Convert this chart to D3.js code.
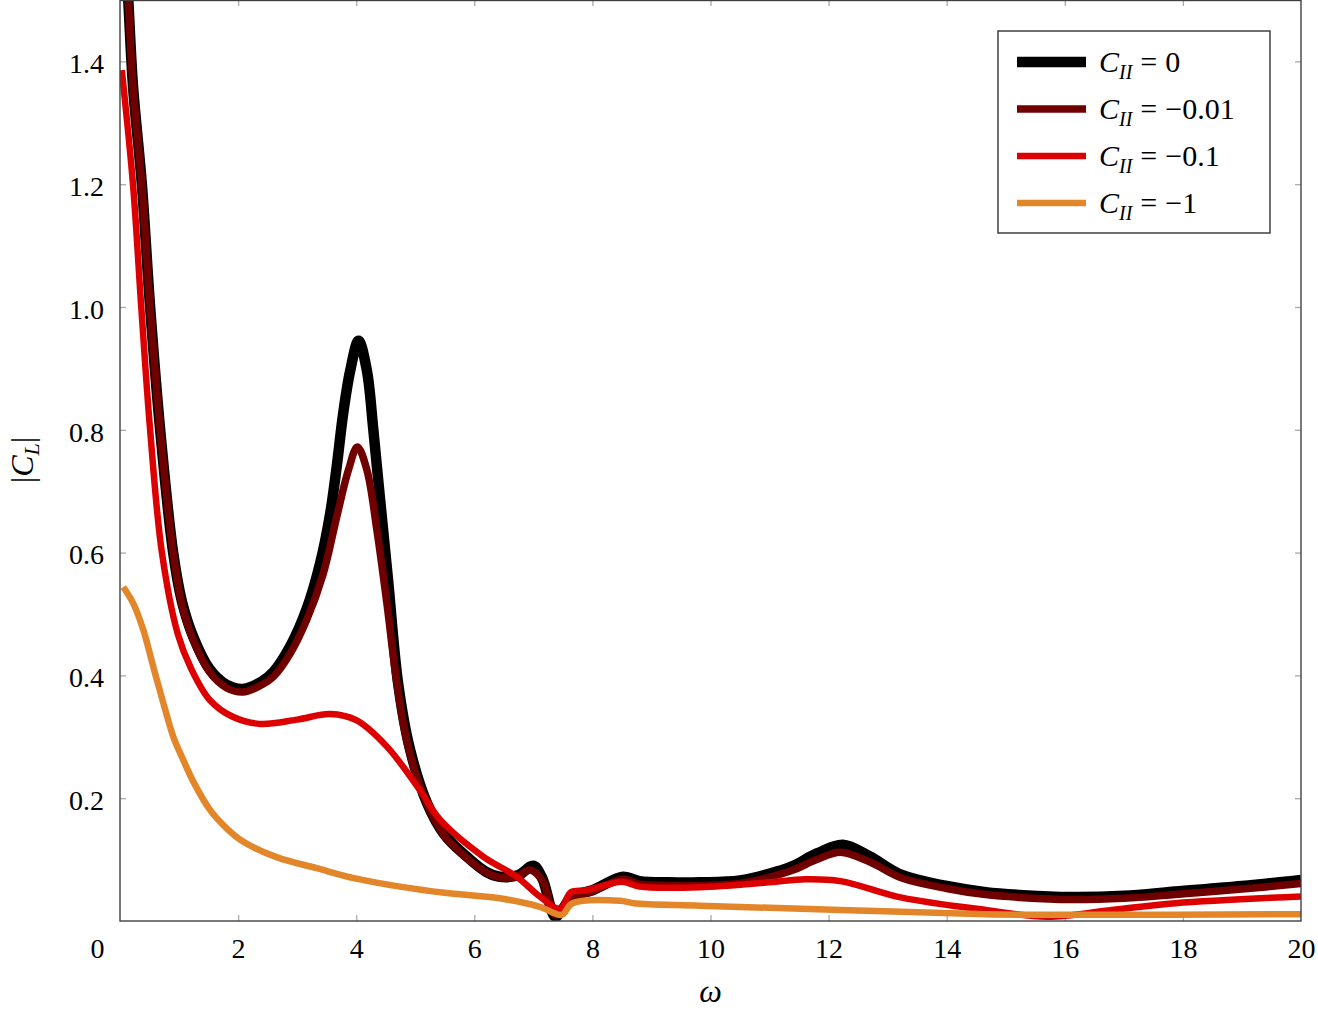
<!DOCTYPE html>
<html>
<head>
<meta charset="utf-8">
<script src="https://cdn.jsdelivr.net/npm/d3@7"></script>
<style>
  body { margin: 0; background: #fff; }
  svg text { font-family: "Liberation Serif", "Times New Roman", Tinos, "DejaVu Serif", "Noto Serif", serif; fill: #000; }
  .tick line { stroke: #aaa; stroke-width: 1.3; }
  .domain { display: none; }
</style>
</head>
<body>
<div id="chart"></div>
<script>
// series values
let omega0 = [0.05, 0.14, 0.22, 0.37, 0.51, 0.68, 0.9, 1.05, 1.24, 1.52, 1.8, 2.08, 2.4, 2.6, 2.88, 3.16, 3.39, 3.56, 3.67, 3.78, 3.9, 4.04, 4.18, 4.29, 4.4, 4.54, 4.71, 4.91, 5.2, 5.5, 5.87, 6.2, 6.43, 6.75, 7.0, 7.15, 7.37, 7.5, 7.65, 8.0, 8.52, 8.8, 9.3, 9.82, 10.5, 11.1, 11.4, 11.8, 12.24, 12.7, 13.24, 14.0, 14.66, 15.3, 16.09, 17.0, 17.87, 19.0, 20];
let cl0 = [1.65, 1.5, 1.36, 1.2, 1.0, 0.80, 0.60, 0.52, 0.463, 0.41, 0.385, 0.378, 0.39, 0.406, 0.447, 0.508, 0.583, 0.664, 0.74, 0.827, 0.897, 0.945, 0.897, 0.80, 0.691, 0.555, 0.387, 0.28, 0.192, 0.14, 0.105, 0.08, 0.072, 0.075, 0.09, 0.07, 0.007, 0.02, 0.04, 0.05, 0.072, 0.065, 0.063, 0.063, 0.066, 0.08, 0.09, 0.11, 0.124, 0.105, 0.075, 0.057, 0.047, 0.042, 0.039, 0.041, 0.048, 0.057, 0.067];

let omega1 = [0.05, 0.14, 0.22, 0.37, 0.51, 0.68, 0.9, 1.05, 1.24, 1.52, 1.8, 2.08, 2.35, 2.6, 2.88, 3.16, 3.44, 3.67, 3.87, 4.02, 4.18, 4.35, 4.52, 4.69, 4.88, 5.2, 5.5, 5.87, 6.2, 6.43, 6.7, 6.95, 7.15, 7.37, 7.5, 7.65, 8.0, 8.52, 8.8, 9.3, 9.82, 10.5, 11.1, 11.4, 11.8, 12.2, 12.7, 13.24, 14.0, 14.66, 15.3, 16.09, 17.0, 17.87, 19.0, 20];
let cl1 = [1.65, 1.5, 1.36, 1.2, 1.0, 0.80, 0.60, 0.515, 0.458, 0.405, 0.38, 0.373, 0.382, 0.398, 0.435, 0.49, 0.565, 0.658, 0.735, 0.772, 0.735, 0.637, 0.517, 0.387, 0.284, 0.19, 0.138, 0.103, 0.079, 0.071, 0.072, 0.083, 0.066, 0.01, 0.02, 0.038, 0.048, 0.068, 0.06, 0.058, 0.058, 0.061, 0.074, 0.083, 0.1, 0.112, 0.096, 0.07, 0.053, 0.043, 0.038, 0.035, 0.037, 0.043, 0.052, 0.061];

let omega2 = [0.03, 0.22, 0.36, 0.51, 0.71, 0.98, 1.2, 1.52, 1.9, 2.37, 3.0, 3.56, 4.0, 4.52, 5.08, 5.42, 6.15, 6.72, 7.11, 7.45, 7.64, 7.9, 8.5, 8.8, 9.82, 11.0, 11.6, 12.2, 13.24, 14.66, 15.7, 16.8, 17.87, 20];
let cl2 = [1.386, 1.2, 1.0, 0.80, 0.60, 0.467, 0.412, 0.36, 0.333, 0.321, 0.328, 0.337, 0.327, 0.284, 0.213, 0.165, 0.105, 0.072, 0.04, 0.02, 0.047, 0.05, 0.064, 0.056, 0.055, 0.063, 0.068, 0.065, 0.038, 0.018, 0.007, 0.018, 0.029, 0.04];

let omega3 = [0.056, 0.226, 0.395, 0.564, 0.734, 0.903, 1.073, 1.242, 1.524, 1.806, 2.09, 2.65, 3.33, 4.0, 4.74, 5.5, 6.43, 7.11, 7.48, 7.66, 8.47, 8.7, 9.82, 12.2, 14.66, 16.0, 20];
let cl3 = [0.544, 0.517, 0.474, 0.414, 0.355, 0.300, 0.262, 0.227, 0.181, 0.151, 0.129, 0.104, 0.086, 0.069, 0.056, 0.046, 0.037, 0.023, 0.01, 0.029, 0.033, 0.029, 0.025, 0.018, 0.011, 0.01, 0.011];

let seriesNames = ["0", "\u22120.01", "\u22120.1", "\u22121"];
let seriesColors = ["#000000", "#700000", "#dc0000", "#e3862a"];
let seriesWidths = [10.5, 7.5, 6.5, 6.5];

let xTicks = [0, 2, 4, 6, 8, 10, 12, 14, 16, 18, 20];
let yTicks = [0.2, 0.4, 0.6, 0.8, 1.0, 1.2, 1.4];

let width = 1318, height = 1013;
let plotLeft = 120, plotRight = 1301, plotTop = 0, plotBottom = 921;
let serif = "'Liberation Serif', 'Times New Roman', Tinos, 'DejaVu Serif', serif";

let x = d3.scaleLinear().domain([0, 20]).range([plotLeft, plotRight]);
let y = d3.scaleLinear().domain([0, 1.5]).range([plotBottom, plotTop]);

let svg = d3.select("#chart").append("svg")
  .attr("width", width)
  .attr("height", height)
  .attr("font-family", serif);

svg.append("defs").append("clipPath").attr("id", "plotclip")
  .append("rect")
  .attr("x", plotLeft).attr("y", plotTop)
  .attr("width", plotRight - plotLeft).attr("height", plotBottom - plotTop);

// ticks on all four sides, pointing inward
svg.append("g")
  .attr("transform", "translate(0," + plotBottom + ")")
  .call(d3.axisBottom(x).tickValues(xTicks).tickSize(-6).tickPadding(17).tickFormat(d3.format("d")))
  .call(g => g.attr("font-family", serif))
  .call(g => g.selectAll("text").attr("font-size", 28).attr("dy", "0.71em"))
  .call(g => g.selectAll(".tick").filter(d => d === 0).select("text").attr("dx", -23))
  .call(g => g.selectAll(".tick").filter(d => d === 0 || d === 20).select("line").remove());

svg.append("g")
  .attr("transform", "translate(0," + plotTop + ")")
  .call(d3.axisTop(x).tickValues(xTicks).tickSize(-6).tickFormat(""))
  .call(g => g.selectAll(".tick").filter(d => d === 0 || d === 20).select("line").remove());

svg.append("g")
  .attr("transform", "translate(" + plotLeft + ",0)")
  .call(d3.axisLeft(y).tickValues(yTicks).tickSize(-6).tickPadding(16).tickFormat(d3.format(".1f")))
  .call(g => g.attr("font-family", serif))
  .call(g => g.selectAll("text").attr("font-size", 28).attr("dy", "0.4em"));

svg.append("g")
  .attr("transform", "translate(" + plotRight + ",0)")
  .call(d3.axisRight(y).tickValues(yTicks).tickSize(-6).tickFormat(""));

let line = d3.line()
  .x(d => x(d[0]))
  .y(d => y(d[1]))
  .curve(d3.curveCatmullRom.alpha(0.5));

let series = [
  d3.zip(omega0, cl0),
  d3.zip(omega1, cl1),
  d3.zip(omega2, cl2),
  d3.zip(omega3, cl3)
];

svg.append("g")
  .attr("clip-path", "url(#plotclip)")
  .selectAll("path")
  .data(series)
  .enter()
  .append("path")
  .attr("d", line)
  .attr("fill", "none")
  .attr("stroke", (d, i) => seriesColors[i])
  .attr("stroke-width", (d, i) => seriesWidths[i])
  .attr("stroke-linejoin", "round");

// axis box
svg.append("rect")
  .attr("x", plotLeft).attr("y", plotTop + 0.5)
  .attr("width", plotRight - plotLeft).attr("height", plotBottom - plotTop - 0.5)
  .attr("fill", "none")
  .attr("stroke", "#404040")
  .attr("stroke-width", 1.4);

// axis labels
svg.append("text")
  .attr("x", (plotLeft + plotRight) / 2)
  .attr("y", 1002)
  .attr("text-anchor", "middle")
  .attr("font-size", 32)
  .attr("font-style", "italic")
  .text("\u03c9");

let ylab = svg.append("text")
  .attr("transform", "translate(33,460) rotate(-90)")
  .attr("text-anchor", "middle")
  .attr("font-size", 32);
ylab.append("tspan").text("|");
ylab.append("tspan").attr("font-style", "italic").text("C");
ylab.append("tspan").attr("font-style", "italic").attr("font-size", 22).attr("dy", 6).text("L");
ylab.append("tspan").attr("dy", -6).text("|");

// legend
let legend = svg.append("g");
legend.append("rect")
  .attr("x", 998).attr("y", 31)
  .attr("width", 272).attr("height", 202)
  .attr("fill", "#fff")
  .attr("stroke", "#333")
  .attr("stroke-width", 1.4);

let rows = legend.selectAll(".entry")
  .data(seriesNames)
  .enter()
  .append("g")
  .attr("class", "entry")
  .attr("transform", (d, i) => "translate(0," + (62 + i * 47) + ")");

rows.append("line")
  .attr("x1", 1017).attr("x2", 1086)
  .attr("stroke", (d, i) => seriesColors[i])
  .attr("stroke-width", (d, i) => seriesWidths[i]);

let lt = rows.append("text")
  .attr("x", 1099)
  .attr("y", 10)
  .attr("font-size", 30);
lt.append("tspan").attr("font-style", "italic").text("C");
lt.append("tspan").attr("font-style", "italic").attr("font-size", 20).attr("dy", 7).text("II");
lt.append("tspan").attr("dy", -7).attr("dx", 8).text("=");
lt.append("tspan").attr("dx", 8).text(d => d);
</script>
</body>
</html>
